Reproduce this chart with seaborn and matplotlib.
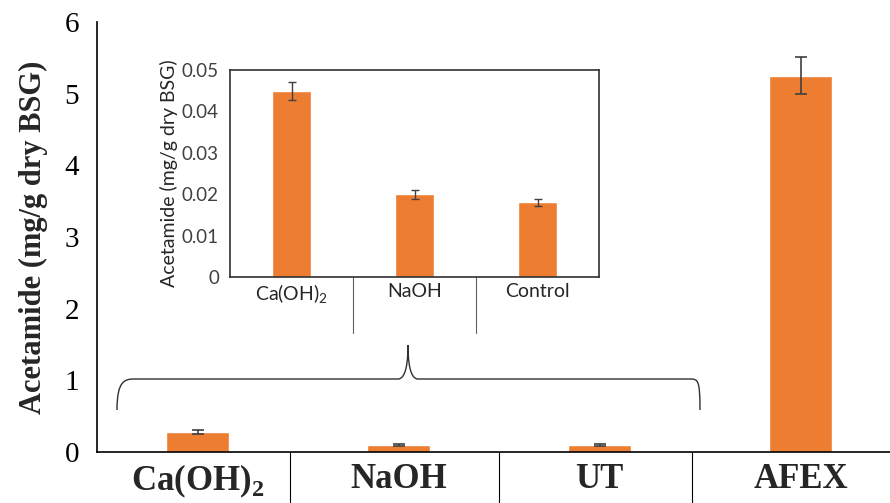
import numpy as np
import pandas as pd
import matplotlib
matplotlib.use("Agg")
import matplotlib.pyplot as plt
from matplotlib.path import Path
from matplotlib.patches import PathPatch
import seaborn as sns

# main chart values
main_cats = ["Ca(OH)$_\\mathbf{2}$", "NaOH", "UT", "AFEX"]
main_vals = [0.28, 0.095, 0.095, 5.25]
main_errs = [0.025, 0.01, 0.01, 0.26]

# inset values
inset_cats = ["Ca(OH)$_\\mathregular{2}$", "NaOH", "Control"]
inset_vals = [0.045, 0.020, 0.018]
inset_errs = [0.0022, 0.0011, 0.0009]

orange = "#ED7D31"
errc = "#404040"

sns.set_style("white")
plt.rcParams["font.family"] = ["Liberation Serif", "DejaVu Serif"]
plt.rcParams["mathtext.fontset"] = "custom"
plt.rcParams["mathtext.bf"] = "Liberation Serif:bold"
plt.rcParams["mathtext.rm"] = "Liberation Serif"

fig = plt.figure(figsize=(8.9, 5.03), dpi=100)
ax = fig.add_axes([97 / 890, 51 / 503, 793 / 890, 430 / 503])

main_df = pd.DataFrame({"cat": main_cats, "val": main_vals})
sns.barplot(data=main_df, x="cat", y="val", color=orange, width=0.31,
            saturation=1, errorbar=None, ax=ax)
ax.errorbar(range(len(main_vals)), main_vals, yerr=main_errs, fmt="none",
            ecolor=errc, elinewidth=1.2, capsize=4, capthick=1.2)
ax.set_xlim(-0.5, 3.445)
ax.set_ylim(0, 6)
ax.set_yticks(range(0, 7))
ax.tick_params(axis="y", direction="inout", length=10, width=1.2, labelsize=21, pad=8, colors="black")
ax.tick_params(axis="x", length=0, labelsize=25, pad=8)
for lab in ax.get_xticklabels():
    lab.set_fontweight("bold")
ax.set_xlabel("")
ax.set_ylabel("Acetamide (mg/g dry BSG)", fontsize=22, fontweight="bold", labelpad=12)
for s in ["top", "right"]:
    ax.spines[s].set_visible(False)
for s in ["left", "bottom"]:
    ax.spines[s].set_color("black")
    ax.spines[s].set_linewidth(1.2)
# separators below the category axis
trans = ax.get_xaxis_transform()
for xb in [0.46, 1.5, 2.46]:
    ax.plot([xb, xb], [0, -0.13], transform=trans, color="black",
            lw=0.8, clip_on=False)

# inset
ins = fig.add_axes([230 / 890, 226 / 503, 369 / 890, 207 / 503])
inset_df = pd.DataFrame({"cat": inset_cats, "val": inset_vals})
sns.barplot(data=inset_df, x="cat", y="val", color=orange, width=0.31,
            saturation=1, errorbar=None, ax=ins)
ins.errorbar(range(len(inset_vals)), inset_vals, yerr=inset_errs, fmt="none",
             ecolor=errc, elinewidth=1, capsize=3, capthick=1)
ins.set_xlim(-0.5, 2.5)
ins.set_ylim(0, 0.05)
ins.set_yticks([0, 0.01, 0.02, 0.03, 0.04, 0.05])
ins.set_yticklabels(["0", "0.01", "0.02", "0.03", "0.04", "0.05"])
ins.tick_params(axis="y", direction="out", length=5, width=1, labelsize=13.5,
                labelcolor="#404040", pad=3)
ins.tick_params(axis="x", length=0, labelsize=14, pad=4)
for lab in ins.get_yticklabels() + ins.get_xticklabels():
    lab.set_family(["Lato", "DejaVu Sans"])
ins.set_xlabel("")
ins.set_ylabel("Acetamide (mg/g dry BSG)", fontsize=14, family=["Lato", "DejaVu Sans"],
               labelpad=3)
for s in ins.spines.values():
    s.set_color("#303030")
    s.set_linewidth(1.2)
itrans = ins.get_xaxis_transform()
for xb in [0.5, 1.5]:
    ins.plot([xb, xb], [0, -0.27], transform=itrans, color="#606060",
             lw=0.8, clip_on=False)

# curly brace linking inset to the small bars (figure pixel coords)
W, H = 890.0, 503.0
def fp(x, y):
    return (x / W, 1 - y / H)
verts = [fp(117, 410), fp(117, 380), fp(125, 379), fp(135, 379),
         fp(398, 379), fp(403, 379), fp(408, 372), fp(408, 345),
         fp(408, 372), fp(413, 379), fp(418, 379),
         fp(690, 379), fp(698, 379), fp(700, 380), fp(700, 410)]
codes = [Path.MOVETO, Path.CURVE4, Path.CURVE4, Path.CURVE4,
         Path.LINETO, Path.CURVE4, Path.CURVE4, Path.CURVE4,
         Path.CURVE4, Path.CURVE4, Path.CURVE4,
         Path.LINETO, Path.CURVE4, Path.CURVE4, Path.CURVE4]
brace = PathPatch(Path(verts, codes), transform=fig.transFigure, fill=False,
                  edgecolor="#303030", lw=1)
fig.patches.append(brace)

fig.savefig("out.png", dpi=100)
